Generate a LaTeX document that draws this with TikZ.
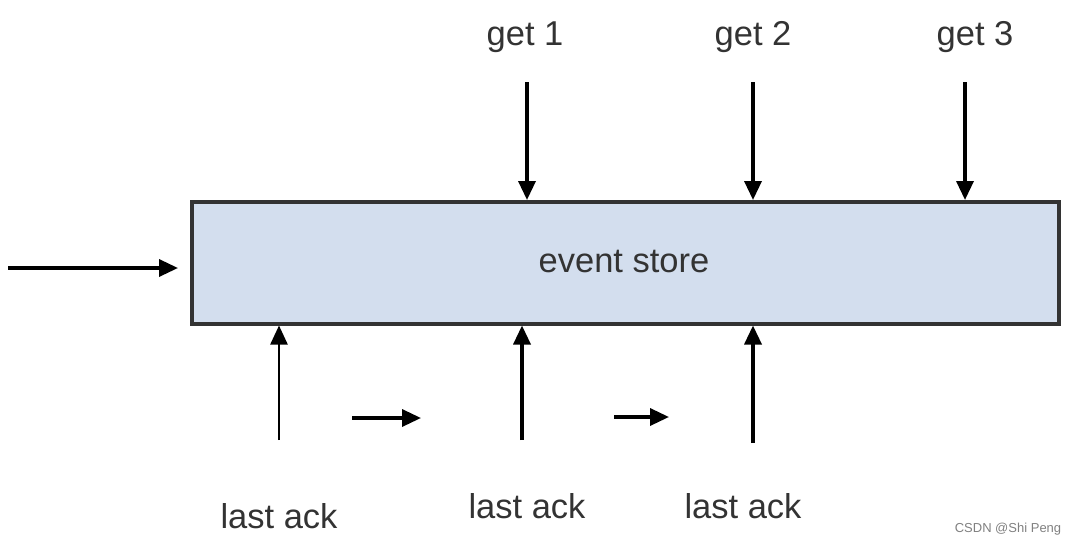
\documentclass[tikz,border=0pt]{standalone}
\usepackage{fontspec}
\setmainfont{Liberation Sans}
\usetikzlibrary{arrows.meta}
\definecolor{boxfill}{HTML}{D3DEEE}
\definecolor{boxdraw}{HTML}{333333}
\definecolor{txt}{HTML}{333333}
\tikzset{
  conn/.style={line width=3.4pt, -{Triangle[length=19pt,width=17pt]}},
  thinconn/.style={line width=2.4pt, -{Triangle[length=19pt,width=17pt]}},
  lbl/.style={font=\fontsize{34.5}{38}\selectfont, text=txt, inner sep=0pt},
}
\begin{document}
\begin{tikzpicture}[x=1pt,y=-1pt]
\useasboundingbox (0,0) rectangle (1076,546);
\node[draw=boxdraw, line width=3.5pt, fill=boxfill, minimum width=867pt, minimum height=122pt, inner sep=0pt, anchor=north west] (store) at (190,200) {};
\node[lbl] (evt) at (624,262) {event store};
% input
\coordinate (in) at (8,268);
\draw[conn] (in) -- ([xshift=-12pt]store.west |- in);
% gets
\node[lbl] (g1) at (525,37) {get 1};
\node[lbl] (g2) at (753,37) {get 2};
\node[lbl] (g3) at (975,37) {get 3};
\coordinate (g1s) at (527,82);
\coordinate (g2s) at (753,82);
\coordinate (g3s) at (965,82);
\draw[conn] (g1s) -- (g1s |- store.north);
\draw[conn] (g2s) -- (g2s |- store.north);
\draw[conn] (g3s) -- (g3s |- store.north);
% acks
\coordinate (a1s) at (279,440);
\coordinate (a2s) at (522,440);
\coordinate (a3s) at (753,443);
\draw[thinconn] (a1s) -- (a1s |- store.south);
\draw[conn] (a2s) -- (a2s |- store.south);
\draw[conn] (a3s) -- (a3s |- store.south);
\coordinate (m1a) at (352,418);
\coordinate (m1b) at (421,418);
\coordinate (m2a) at (614,417);
\coordinate (m2b) at (669,417);
\draw[conn] (m1a) -- (m1b);
\draw[conn] (m2a) -- (m2b);
\node[lbl] (l1) at (279,516) {last ack};
\node[lbl] (l2) at (527,506) {last ack};
\node[lbl] (l3) at (743,506) {last ack};
\node[font=\fontsize{13}{15}\selectfont, text=gray, inner sep=0pt] (wm) at (1008,529) {CSDN @Shi Peng};
\end{tikzpicture}
\end{document}
